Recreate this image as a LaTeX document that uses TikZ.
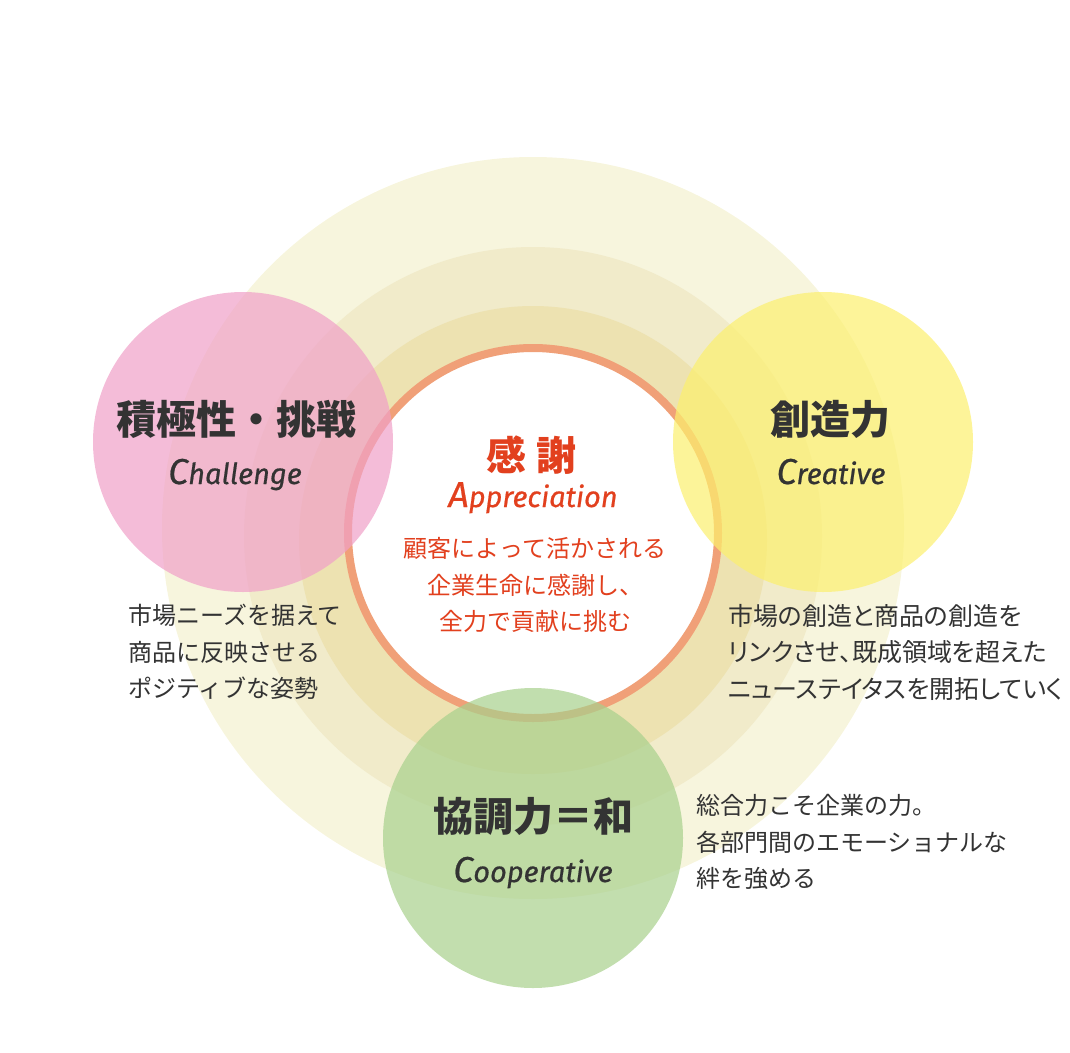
\documentclass[tikz,border=0pt]{standalone}
\usepackage{fontspec}
\usepackage{xcolor}
\usepackage{tikz}
\usetikzlibrary{positioning}
\newfontfamily\jpfont{Noto Sans CJK JP}
\newfontfamily\jpprop{Noto Sans CJK JP}[RawFeature=+palt]
\newfontfamily\enfont{Fira Sans}[ItalicFeatures={FakeBold=0.6}]
\definecolor{beigeouter}{RGB}{247,245,221}
\definecolor{beigemid}{RGB}{241,235,202}
\definecolor{beigeinner}{RGB}{237,226,177}
\definecolor{ringorange}{RGB}{240,160,120}
\definecolor{challpink}{RGB}{240,160,200}
\definecolor{creayellow}{RGB}{252,240,110}
\definecolor{coopgreen}{RGB}{168,208,140}
\definecolor{titlegray}{RGB}{51,51,51}
\definecolor{apprred}{RGB}{226,64,30}
\newcommand{\capinit}[1]{{\fontsize{36}{40}\selectfont #1}}

\begin{document}
\begin{tikzpicture}[
    x=1pt, y=-1pt,
    halo/.style={circle, draw=none, inner sep=0pt},
    valuedisc/.style={circle, draw=none, inner sep=0pt, minimum size=300pt, fill opacity=0.7},
    title/.style={font=\jpfont\bfseries\fontsize{40}{48}\selectfont, text=titlegray, inner sep=0pt},
    engword/.style={font=\enfont\itshape\fontsize{29}{34}\selectfont, text=titlegray, inner sep=0pt, anchor=base},
    desc/.style={font=\jpfont\fontsize{24}{36.5}\selectfont, text=titlegray, align=left, inner sep=0pt, anchor=west}
]
\useasboundingbox (0,0) rectangle (1070,1052);

% === BACKGROUND HALOS ===
\node[halo, fill=beigeouter, minimum size=742pt] (outer) at (533,528) {};
\node[halo, fill=beigemid, minimum size=578pt] (mid) at (533,536) {};
\node[halo, fill=beigeinner, minimum size=468pt] (inner) at (533,540) {};

% === CENTRE: APPRECIATION ===
\node[circle, draw=ringorange, line width=8pt, fill=white, inner sep=0pt,
    minimum size=370pt] (appr) at (533,533) {};

% === THREE VALUES ===
\node[valuedisc, fill=challpink] (chal) at (243,442) {};
\node[valuedisc, fill=creayellow] (crea) at (823,442) {};
\node[valuedisc, fill=coopgreen] (coop) at (533,838) {};

% Titles
\node[title] (chalT) at (236,419) {積極性・挑戦};
\node[engword] (chalE) at (235,484) {\capinit{C}hallenge};
\node[title] (creaT) at (830,419) {創造力};
\node[engword] (creaE) at (831,484) {\capinit{C}reative};
\node[title] (coopT) at (533,816) {協調力＝和};
\node[engword] (coopE) at (533,882) {\capinit{C}ooperative};

\node[title, text=apprred] (apprT) at (531,455) {感\hspace{10pt}謝};
\node[engword, text=apprred] (apprE) at (533,507) {\capinit{A}ppreciation};
\node[desc, text=apprred, align=center, anchor=center] (apprD) at (535,585) {
    顧客によって活かされる\\
    企業生命に感謝し、\\
    全力で貢献に挑む
};

% Descriptions
\node[desc] (chalD) at (128,652) {
    市場ニーズを据えて\\
    商品に反映させる\\
    ポジティブな姿勢
};
\node[desc, font=\jpprop\fontsize{25}{36.5}\selectfont] (creaD) at (728,652) {
    市場の創造と商品の創造を\\
    リンクさせ、既成領域を超えた\\
    ニューステイタスを開拓していく
};
\node[desc] (coopD) at (696,842) {
    総合力こそ企業の力。\\
    各部門間のエモーショナルな\\
    絆を強める
};

\end{tikzpicture}
\end{document}
